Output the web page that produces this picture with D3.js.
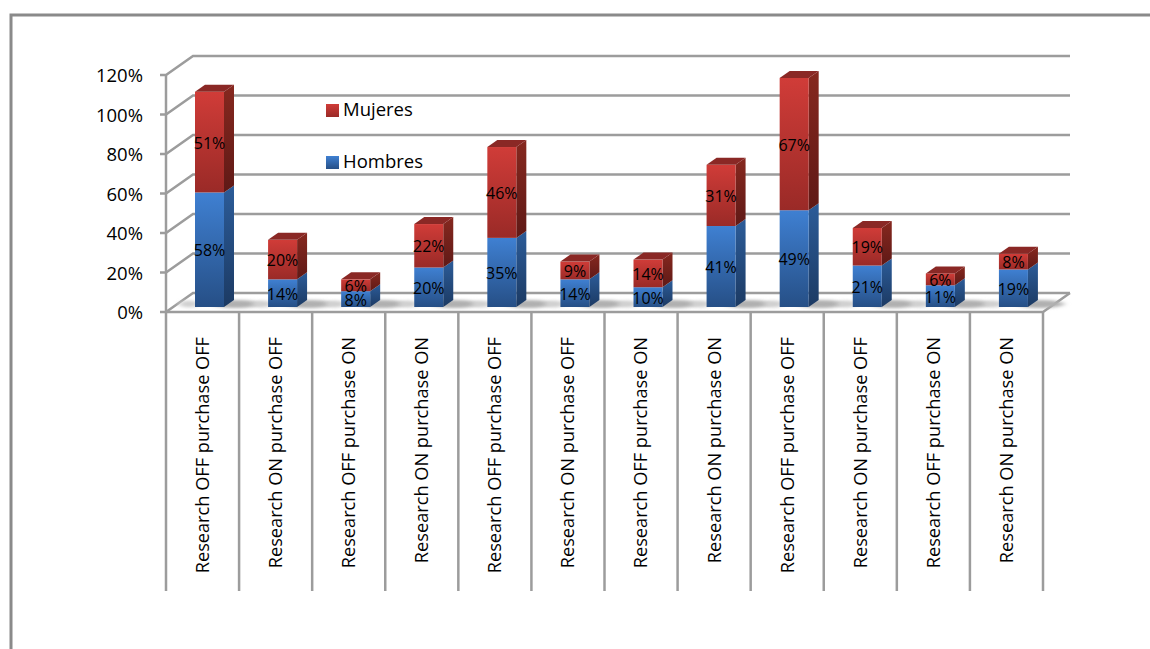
<!DOCTYPE html>
<html>
<head>
<meta charset="utf-8">
<script src="https://cdn.jsdelivr.net/npm/d3@7"></script>
<style>
  html, body { margin: 0; padding: 0; background: #fff; overflow: hidden; }
  svg { display: block; }
  text { font-family: "Open Sans", sans-serif; fill: #000; }
</style>
</head>
<body>
<svg id="chart" width="1150" height="649"></svg>
<script>
const categories = [
  "Research OFF purchase OFF", "Research ON purchase OFF",
  "Research OFF purchase ON", "Research ON purchase ON",
  "Research OFF purchase OFF", "Research ON purchase OFF",
  "Research OFF purchase ON", "Research ON purchase ON",
  "Research OFF purchase OFF", "Research ON purchase OFF",
  "Research OFF purchase ON", "Research ON purchase ON"
];
const hombres = [58, 14, 8, 20, 35, 14, 10, 41, 49, 21, 11, 19];
const mujeres = [51, 20, 6, 22, 46, 9, 14, 31, 67, 19, 6, 8];
const yTicks = [0, 20, 40, 60, 80, 100, 120];
const legendItems = [["Mujeres", "red"], ["Hombres", "blue"]];

const svg = d3.select("#chart");
const GRID = "#9c9c9c";

// Layout of the pseudo-3D box
const floorFront = 312, axisTop = 75, plotLeft = 166, plotRight = 1043;
const wallDx = 27, wallDy = -19;
const barDx = 10, barDy = -7, barInset = 29, barWidth = 29, barBase = 307;

const y = d3.scaleLinear().domain([0, 120]).range([floorFront, axisTop]);
const x = d3.scaleBand().domain(d3.range(categories.length)).range([plotLeft, plotRight]);
const h = v => y(0) - y(v);

// Gradients for faces
const defs = svg.append("defs");
function grad(id, top, bottom) {
  const g = defs.append("linearGradient").attr("id", id)
    .attr("x1", 0).attr("y1", 0).attr("x2", 0).attr("y2", 1);
  g.append("stop").attr("offset", 0).attr("stop-color", top);
  g.append("stop").attr("offset", 1).attr("stop-color", bottom);
}
grad("red-front", "#d03c38", "#9a2a27");
grad("red-side", "#86281f", "#5f1916");
grad("blue-front", "#3f80d2", "#264f86");
grad("blue-side", "#2c5c99", "#1c3a63");
grad("red-swatch", "#d03c38", "#9a2a27");
grad("blue-swatch", "#3f80d2", "#264f86");
defs.append("filter").attr("id", "soft")
  .attr("x", "-30%").attr("y", "-100%").attr("width", "160%").attr("height", "300%")
  .append("feGaussianBlur").attr("stdDeviation", "3 1.5");

// Outer frame: open on the right and at the bottom
svg.append("path")
  .attr("d", "M11,649 V15 H1150")
  .attr("fill", "none").attr("stroke", "#8a8a8a").attr("stroke-width", 3);

// Back wall gridlines with their slanted side-wall segments and tick stubs
const grid = svg.append("g").attr("fill", "none").attr("stroke", GRID).attr("stroke-width", 2.5);
yTicks.forEach(t => {
  const yy = y(t);
  grid.append("path").attr("d",
    `M${plotLeft - 6},${yy} H${plotLeft} L${plotLeft + wallDx},${yy + wallDy} H${plotRight + wallDx}`);
});
grid.append("line").attr("x1", plotLeft).attr("x2", plotLeft).attr("y1", axisTop).attr("y2", floorFront);

// Floor front edge, right edge and category separators
grid.append("path").attr("d",
  `M${plotLeft},${floorFront} H${plotRight} L${plotRight + wallDx},${floorFront + wallDy}`);
d3.range(categories.length + 1).forEach(i => {
  const xx = plotLeft + i * x.bandwidth();
  grid.append("line").attr("x1", xx).attr("x2", xx).attr("y1", floorFront).attr("y2", 591);
});

// Y axis labels
svg.append("g").selectAll("text").data(yTicks).join("text")
  .attr("x", plotLeft - 23).attr("y", d => y(d) + 1)
  .attr("dy", "0.35em").attr("text-anchor", "end")
  .style("font-size", "18.5px")
  .text(d => d + "%");

// Bars
const bars = svg.append("g").selectAll("g").data(categories).join("g")
  .attr("transform", (d, i) => `translate(${x(i) + barInset},${barBase})`);

// Soft floor shadow on both sides of each bar
bars.append("ellipse")
  .attr("cx", barWidth + 12).attr("cy", -3).attr("rx", 24).attr("ry", 4)
  .attr("fill", "#b0b0b0").attr("filter", "url(#soft)");
bars.append("ellipse")
  .attr("cx", -6).attr("cy", -3).attr("rx", 10).attr("ry", 3.5)
  .attr("fill", "#d0d0d0").attr("filter", "url(#soft)");

function segment(sel, bottomOf, valueOf, name, withTop) {
  const seg = sel.append("g");
  const y0 = (d, i) => -h(bottomOf(i));
  const y1 = (d, i) => -h(bottomOf(i) + valueOf(i));
  seg.append("path")
    .attr("fill", `url(#${name}-side)`)
    .attr("d", (d, i) => `M${barWidth},${y0(d, i)} L${barWidth + barDx},${y0(d, i) + barDy} V${y1(d, i) + barDy} L${barWidth},${y1(d, i)} Z`);
  seg.append("rect")
    .attr("fill", `url(#${name}-front)`)
    .attr("x", 0).attr("width", barWidth)
    .attr("y", y1).attr("height", (d, i) => h(valueOf(i)));
  if (withTop) {
    seg.append("path").attr("fill", "#8a2825")
      .attr("d", (d, i) => `M0,${y1(d, i)} l${barDx},${barDy} h${barWidth} l${-barDx},${-barDy} Z`);
  }
}
segment(bars, () => 0, i => hombres[i], "blue", false);
segment(bars, i => hombres[i], i => mujeres[i], "red", true);

// Value labels, centred on each segment
function valueLabels(bottomOf, valueOf) {
  bars.append("text")
    .attr("x", barWidth / 2)
    .attr("y", (d, i) => -h(bottomOf(i) + valueOf(i) / 2) + 1)
    .attr("dy", "0.35em").attr("text-anchor", "middle")
    .style("font-size", "16px")
    .text((d, i) => valueOf(i) + "%");
}
valueLabels(() => 0, i => hombres[i]);
valueLabels(i => hombres[i], i => mujeres[i]);

// Category labels, rotated and hanging from a common top line
svg.append("g").selectAll("text").data(categories).join("text")
  .attr("transform", (d, i) => `translate(${x(i) + x.bandwidth() / 2},337) rotate(-90)`)
  .attr("dy", "0.35em").attr("text-anchor", "end")
  .style("font-size", "18.2px")
  .text(d => d);

// Legend
const legendY = d3.scalePoint().domain(legendItems.map(d => d[0])).range([110, 162]);
const legend = svg.append("g").selectAll("g").data(legendItems).join("g")
  .attr("transform", d => `translate(326,${legendY(d[0])})`);
legend.append("rect").attr("x", 0).attr("y", -6).attr("width", 13).attr("height", 13)
  .attr("fill", d => `url(#${d[1]}-swatch)`);
legend.append("text").attr("x", 17).attr("dy", "0.35em")
  .style("font-size", "18.5px").text(d => d[0]);
</script>
</body>
</html>
